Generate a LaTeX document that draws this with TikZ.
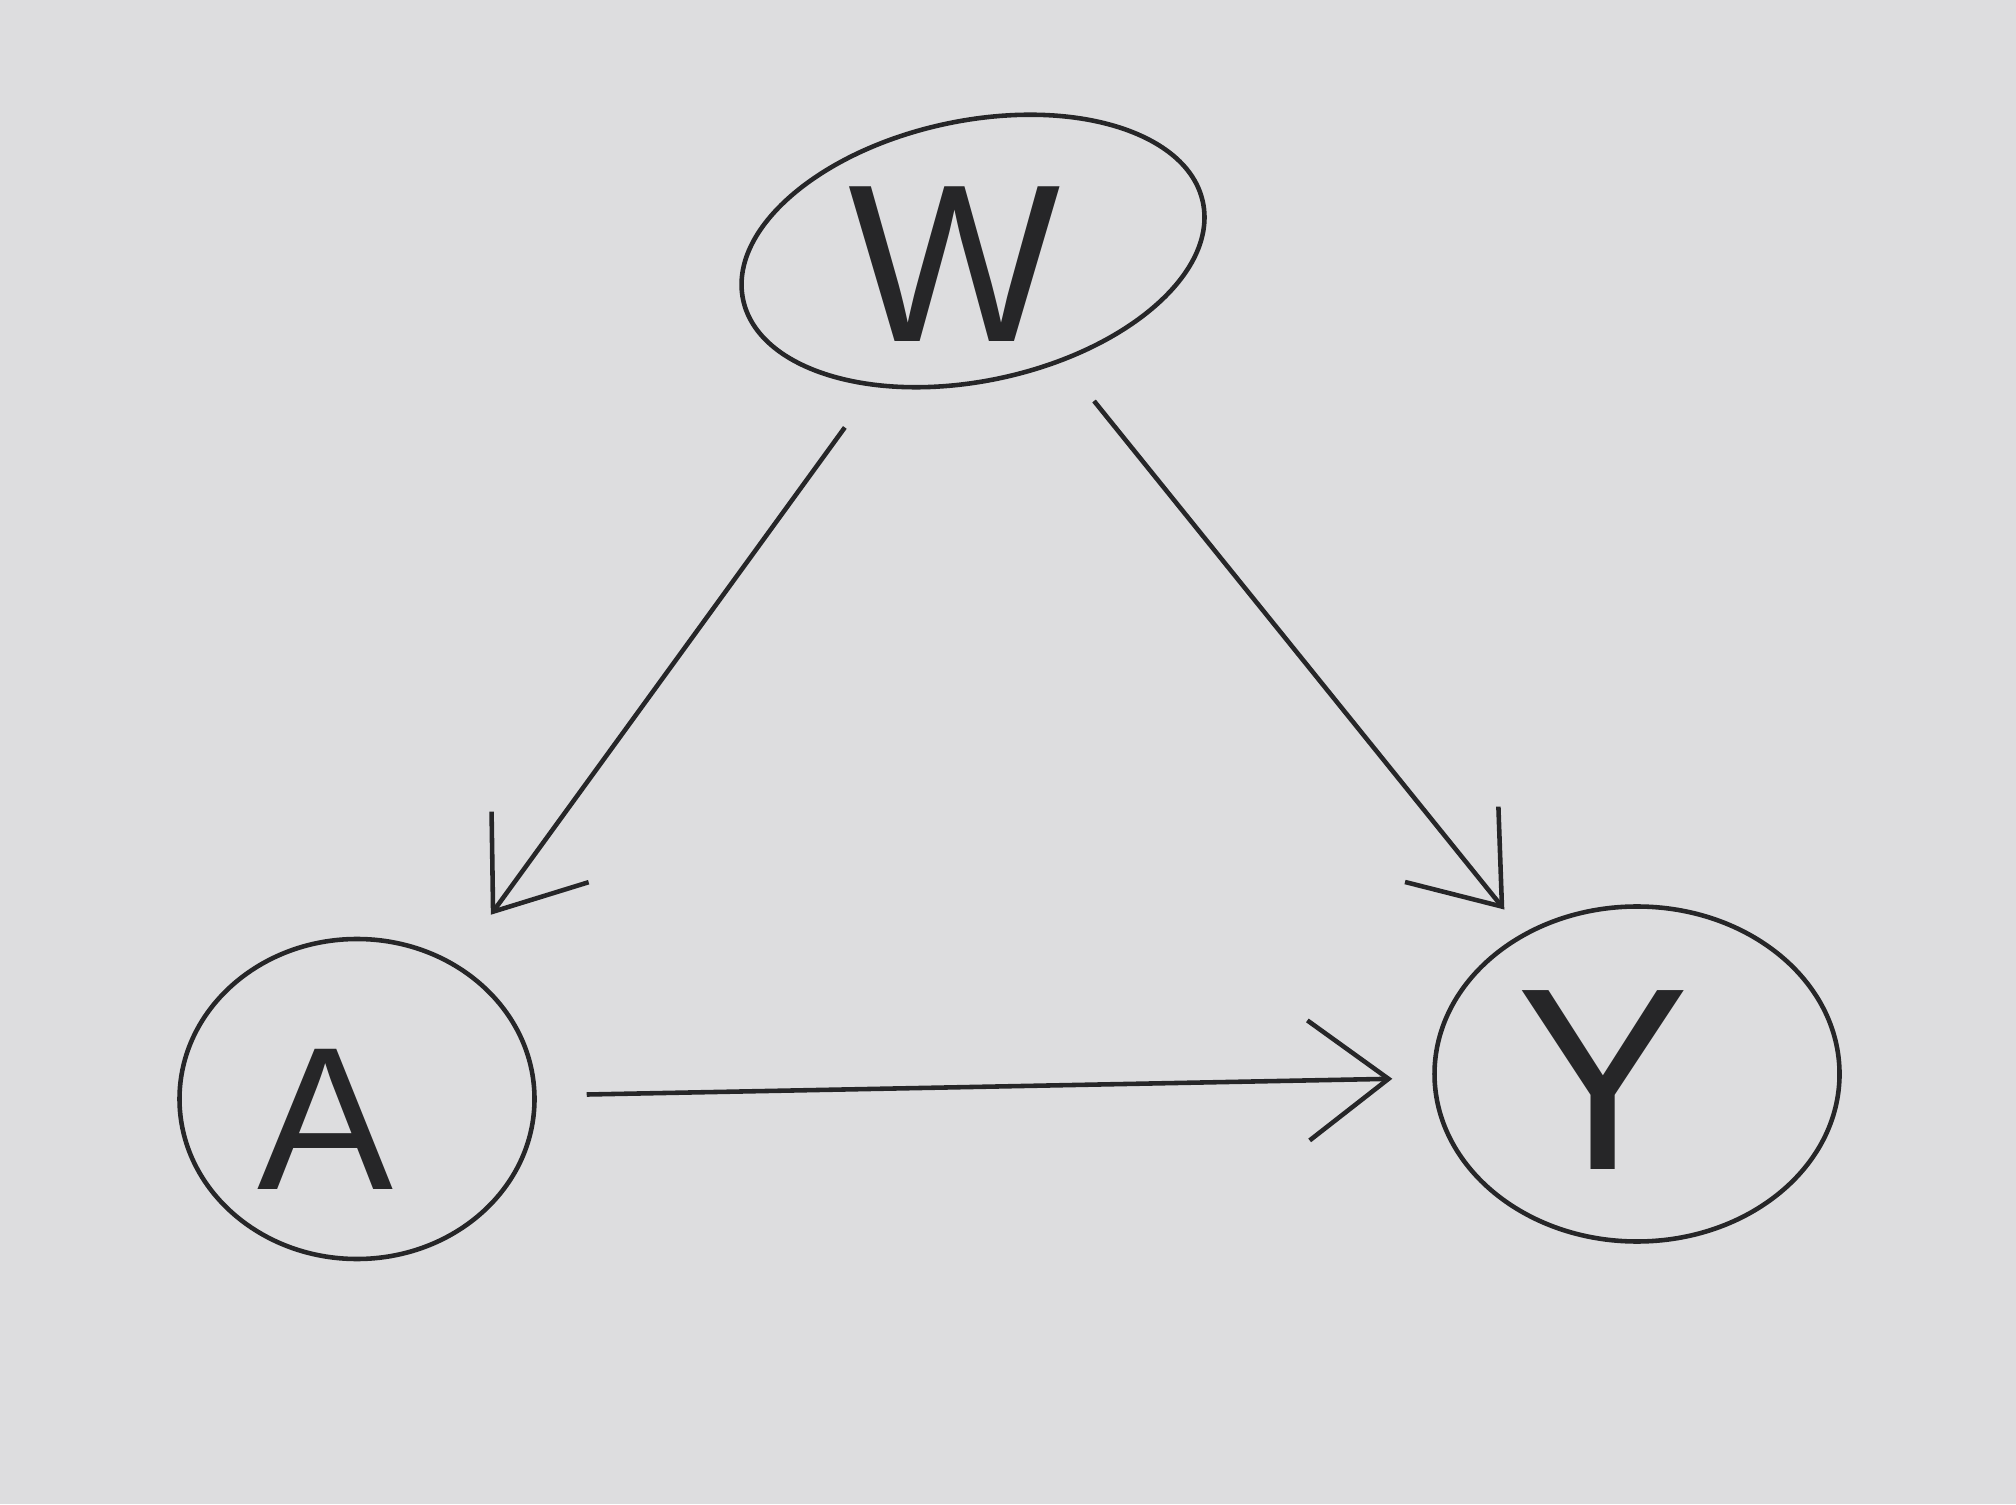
\documentclass[tikz,border=0pt]{standalone}
\usepackage{fontspec}
\setsansfont{Liberation Sans}
\usetikzlibrary{shapes.geometric,arrows.meta}
\definecolor{paper}{RGB}{221,221,223}
\definecolor{ink}{RGB}{38,38,40}
\begin{document}
\begin{tikzpicture}[
  x=1cm,y=1cm,
  var/.style={draw=ink, line width=1.3pt, ellipse, inner sep=0pt},
  lbl/.style={text=ink, font=\sffamily},
  edge/.style={draw=ink, line width=1.3pt,
    -{Straight Barb[length=8mm,width=12mm,line width=1.3pt]}}
]
% paper
\fill[paper] (0,0) rectangle (20.16,15.04);
\useasboundingbox (0,0) rectangle (20.16,15.04);

% variables
\node[var, minimum width=4.7cm, minimum height=2.6cm, rotate=12] (W) at (9.73,12.53) {};
\node[var, minimum width=3.55cm, minimum height=3.2cm] (A) at (3.57,4.05) {};
\node[var, minimum width=4.05cm, minimum height=3.35cm] (Y) at (16.37,4.30) {};

\node[lbl, font=\sffamily\fontsize{64}{64}\selectfont] (Wl) at (9.55,12.40) {W};
\node[lbl, font=\sffamily\fontsize{58}{58}\selectfont] (Al) at (3.25,3.85) {A};
\node[lbl, font=\sffamily\fontsize{74}{74}\selectfont] (Yl) at (16.03,4.24) {Y};

% causal arrows
\draw[edge, shorten <=5mm, shorten >=6mm] (W) -- (A);
\draw[edge, shorten <=5mm, shorten >=3mm] (W) -- (Y);
\draw[edge, shorten <=5mm, shorten >=4mm] (A) -- (Y);
\end{tikzpicture}
\end{document}
